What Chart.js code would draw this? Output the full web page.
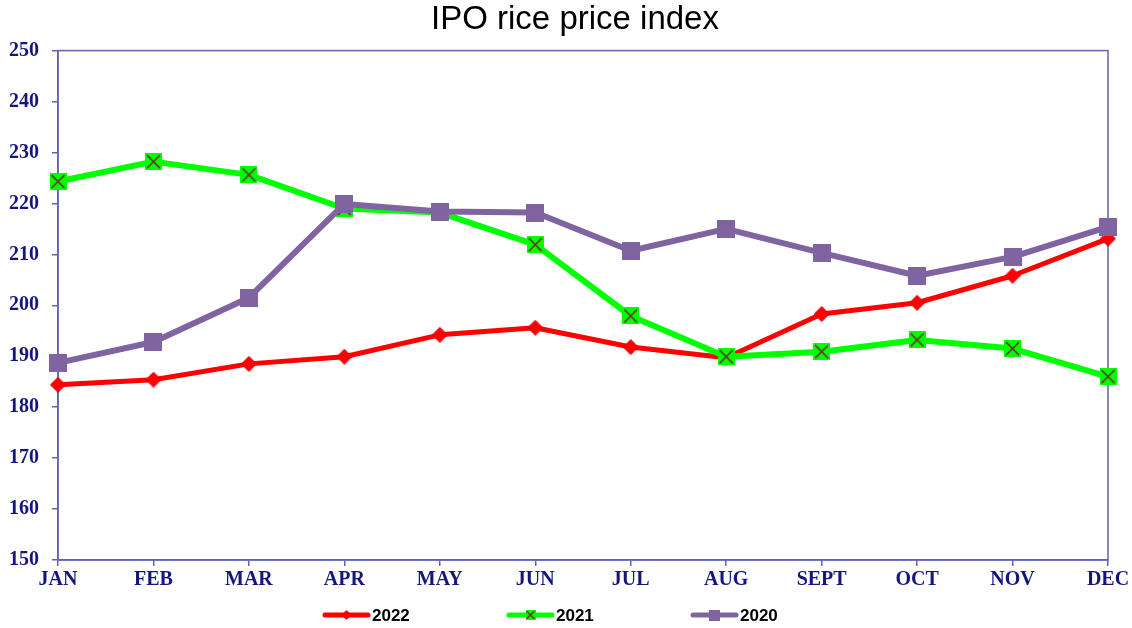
<!DOCTYPE html>
<html><head><meta charset="utf-8">
<script src="https://cdn.jsdelivr.net/npm/chart.js@4/dist/chart.umd.min.js"></script>
<style>html,body{margin:0;padding:0;background:#fff}#wrap{width:1132px;height:628px;position:relative}</style>
</head><body><div id="wrap"><canvas id="c"></canvas></div>
<script>
const chartTitle = 'IPO rice price index';
const months = ['JAN','FEB','MAR','APR','MAY','JUN','JUL','AUG','SEPT','OCT','NOV','DEC'];
const labels2022 = '2022', labels2021 = '2021', labels2020 = '2020';
const values2022 = [184.4, 185.4, 188.5, 189.9, 194.2, 195.6, 191.8, 189.7, 198.3, 200.5, 205.8, 213.1];
const values2021 = [224.3, 228.2, 225.6, 219.0, 218.2, 211.9, 197.9, 189.9, 190.9, 193.2, 191.5, 186.0];
const values2020 = [188.7, 192.8, 201.5, 219.9, 218.4, 218.2, 210.7, 215.0, 210.3, 205.8, 209.5, 215.4];
const yMin = 150, yMax = 250, yStep = 10;

const RED = '#ff0000', GREEN = '#00ff00', PURPLE = '#8064a2', XCOL = '#6b2d1f';
const AXIS = '#6262b4', TICKTXT = '#15157f';

function mk(w, h, fn){ const c=document.createElement('canvas'); c.width=w; c.height=h; fn(c.getContext('2d'), w, h); return c; }
function diamond(s){ return mk(s, s, (g,w,h)=>{ const r=s/2-0.5; g.fillStyle=RED; g.strokeStyle='#d80000'; g.lineWidth=1; g.beginPath(); g.moveTo(w/2,h/2-r); g.lineTo(w/2+r,h/2); g.lineTo(w/2,h/2+r); g.lineTo(w/2-r,h/2); g.closePath(); g.fill(); g.stroke(); }); }
function xsquare(s, lw){ return mk(s, s, (g,w,h)=>{ g.fillStyle=GREEN; g.fillRect(0,0,w,h); g.strokeStyle=XCOL; g.lineWidth=lw; const i=s*0.12; g.beginPath(); g.moveTo(i,i); g.lineTo(w-i,h-i); g.moveTo(w-i,i); g.lineTo(i,h-i); g.stroke(); }); }
function square(s){ return mk(s, s, (g,w,h)=>{ g.fillStyle=PURPLE; g.fillRect(0,0,w,h); }); }

const titleShift = { id:'titleShift', afterLayout(chart){ const t=chart.titleBlock; if (t){ t.left += 18; } } };
const frame = { id:'frame', beforeDatasetsDraw(chart){ const a=chart.chartArea, g=chart.ctx; g.save(); g.strokeStyle=AXIS; g.lineWidth=1.5; g.strokeRect(a.left, a.top, a.right-a.left, a.bottom-a.top); g.restore(); } };
const legend = { id:'customLegend', afterDraw(chart){ const g=chart.ctx; const y=615; let x=322; const step=184;
  chart.data.datasets.forEach(ds=>{ g.save(); g.strokeStyle=ds.borderColor; g.lineWidth=5; g.lineCap='round'; g.beginPath(); g.moveTo(x+3,y); g.lineTo(x+46,y); g.stroke();
    const m=ds.legendMarker; g.drawImage(m, x+24.5-m.width/2, y-m.height/2);
    g.font='bold 17px "Liberation Sans", Arial, sans-serif'; g.fillStyle='#000'; g.textBaseline='middle'; g.textAlign='left'; g.fillText(ds.label, x+50, y+1);
    g.restore(); x+=step; }); } };

new Chart(document.getElementById('c'), {
  type:'line',
  data:{ labels: months, datasets:[
    { label: labels2022, data: values2022, borderColor: RED, backgroundColor: RED, borderWidth:5, pointStyle: diamond(16), pointRadius:8, order:3, clip:false, legendMarker: diamond(10) },
    { label: labels2021, data: values2021, borderColor: GREEN, backgroundColor: GREEN, borderWidth:6, pointStyle: xsquare(17,1.6), pointRadius:8, order:2, clip:false, legendMarker: xsquare(10,1.4) },
    { label: labels2020, data: values2020, borderColor: PURPLE, backgroundColor: PURPLE, borderWidth:6, pointStyle: square(18), pointRadius:9, order:1, clip:false, legendMarker: square(11) }
  ]},
  options:{
    responsive:true, maintainAspectRatio:false, animation:false,
    layout:{ padding:{ left:0, right:0, top:0, bottom:32 } },
    elements:{ line:{ tension:0, borderCapStyle:'round', borderJoinStyle:'round' } },
    plugins:{
      legend:{ display:false }, tooltip:{ enabled:false },
      title:{ display:true, text: chartTitle, color:'#000', font:{ family:'"Liberation Sans", Arial, sans-serif', size:33, weight:'normal' }, padding:{ top:0, bottom:11 } }
    },
    scales:{
      x:{ offset:false, grid:{ display:true, drawOnChartArea:false, drawTicks:true, tickLength:6, color:AXIS, lineWidth:1.5 }, border:{ display:true, color:AXIS, width:1.5 },
          ticks:{ color:TICKTXT, padding:2, maxRotation:0, autoSkip:false, font:{ family:'"Liberation Serif", "Times New Roman", serif', size:20, weight:'bold' } },
          afterFit(s){ s.height = 36; s.paddingRight = 24; s.paddingLeft = 0; } },
      y:{ min:yMin, max:yMax, grid:{ display:true, drawOnChartArea:false, drawTicks:true, tickLength:6, color:AXIS, lineWidth:1.5 }, border:{ display:true, color:AXIS, width:1.5 },
          ticks:{ stepSize:yStep, color:TICKTXT, padding:13, font:{ family:'"Liberation Serif", "Times New Roman", serif', size:20, weight:'bold' } },
          afterFit(s){ s.width = 58; } }
    }
  },
  plugins:[titleShift, frame, legend]
});
</script></body></html>
